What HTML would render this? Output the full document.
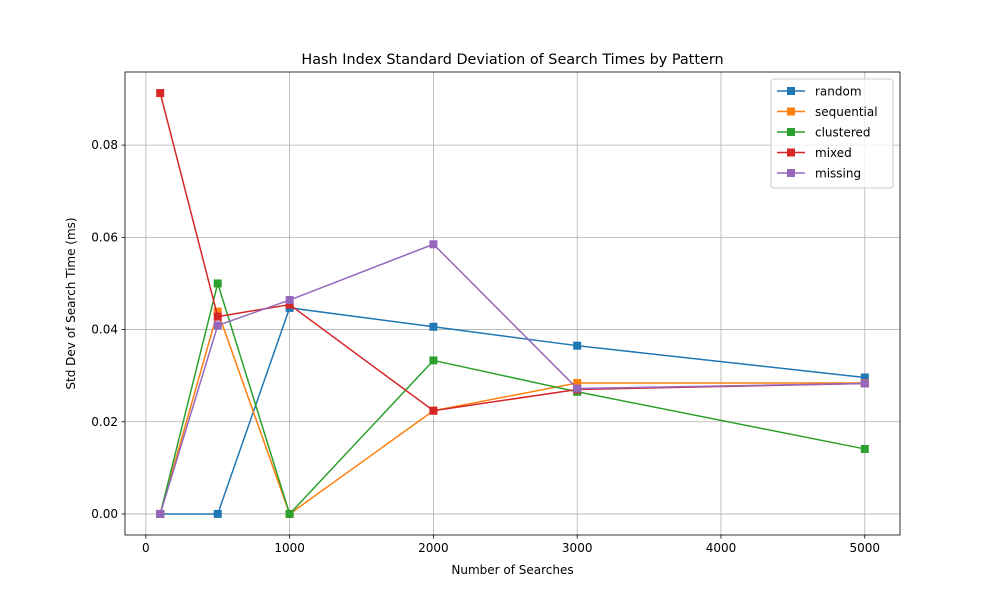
<!DOCTYPE html>
<html><head><meta charset="utf-8"><style>
body{margin:0;background:#fff;font-family:"Liberation Sans","DejaVu Sans",sans-serif}
svg text{font-family:"DejaVu Sans","Liberation Sans",sans-serif}
</style></head><body>
<svg id="c" width="1000" height="600" xmlns="http://www.w3.org/2000/svg"></svg>
<script>
const xs=[100,500,1000,2000,3000,5000];
const seriesNames=["random","sequential","clustered","mixed","missing"];
const colors=["#1f77b4","#ff7f0e","#2ca02c","#d62728","#9467bd"];
const random=[0,0,0.0447,0.0406,0.0365,0.0296];
const sequential=[0,0.0439,0,0.0224,0.0284,0.0284];
const clustered=[0,0.0500,0,0.0333,0.0265,0.0141];
const mixed=[0.0913,0.0428,0.0454,0.0224,0.0270,0.0283];
const missing=[0,0.0409,0.0464,0.0585,0.0272,0.0283];
const allSeries=[random,sequential,clustered,mixed,missing];
const xTicks=[0,1000,2000,3000,4000,5000];
const yTicks=[0,0.02,0.04,0.06,0.08];
const L=125,R=900,T=72,B=535;
const xmin0=Math.min(...xs),xmax0=Math.max(...xs),xm=(xmax0-xmin0)*0.05;
const xmin=xmin0-xm,xmax=xmax0+xm;
const allv=allSeries.flat();const ymin0=Math.min(...allv),ymax0=Math.max(...allv),ymg=(ymax0-ymin0)*0.05;
const ymin=ymin0-ymg,ymax=ymax0+ymg;
const X=v=>L+(v-xmin)/(xmax-xmin)*(R-L);
const Y=v=>B-(v-ymin)/(ymax-ymin)*(B-T);
const svg=document.getElementById('c');const NS="http://www.w3.org/2000/svg";
function mk(tag,attrs,parent){const e=document.createElementNS(NS,tag);for(const k in attrs)e.setAttribute(k,attrs[k]);(parent||svg).appendChild(e);return e;}
xTicks.forEach(t=>{const x=X(t);
const g=mk('line',{x1:x,x2:x,y1:T,y2:B,stroke:'#b0b0b0','stroke-width':0.8});

mk('line',{x1:x,x2:x,y1:B,y2:B+3.5,stroke:'#000','stroke-width':0.8});
const tx=mk('text',{x:x,y:B+17,'font-size':12,'text-anchor':'middle'});tx.textContent=t;
});
yTicks.forEach(t=>{const y=Y(t);
const g=mk('line',{x1:L,x2:R,y1:y,y2:y,stroke:'#b0b0b0','stroke-width':0.8});

mk('line',{x1:L-3.5,x2:L,y1:y,y2:y,stroke:'#000','stroke-width':0.8});
const tx=mk('text',{x:L-7,y:y+4,'font-size':12,'text-anchor':'end'});tx.textContent=t.toFixed(2);
});
allSeries.forEach((s,i)=>{const g=mk('g',{});

mk('polyline',{points:s.map((v,j)=>X(xs[j])+','+Y(v)).join(' '),fill:'none',stroke:colors[i],'stroke-width':1.5},g);
s.forEach((v,j)=>{const r=mk('rect',{x:X(xs[j])-4,y:Y(v)-4,width:8,height:8,fill:colors[i]},g);
});});
const fr=mk('rect',{x:L,y:T,width:R-L,height:B-T,fill:'none',stroke:'#000','stroke-width':0.8});

const ti=mk('text',{x:(L+R)/2,y:T-8,'font-size':14.4,'text-anchor':'middle'});ti.textContent='Hash Index Standard Deviation of Search Times by Pattern';

const xl=mk('text',{x:(L+R)/2,y:574,'font-size':12,'text-anchor':'middle'});xl.textContent='Number of Searches';

const yl=mk('text',{x:75,y:(T+B)/2,'font-size':12,'text-anchor':'middle',transform:'rotate(-90 75 '+((T+B)/2)+')'});yl.textContent='Std Dev of Search Time (ms)';

const lg=mk('g',{});
mk('rect',{x:771,y:79,width:122,height:109,rx:3,fill:'#fff','fill-opacity':0.8,stroke:'#ccc'},lg);
seriesNames.forEach((n,i)=>{const y=91+i*20.5;const e=mk('g',{},lg);

mk('line',{x1:777,x2:805,y1:y,y2:y,stroke:colors[i],'stroke-width':1.5},e);
mk('rect',{x:787,y:y-4,width:8,height:8,fill:colors[i]},e);
const t=mk('text',{x:815,y:y+4.5,'font-size':12},e);t.textContent=n;});
</script>
</body></html>
